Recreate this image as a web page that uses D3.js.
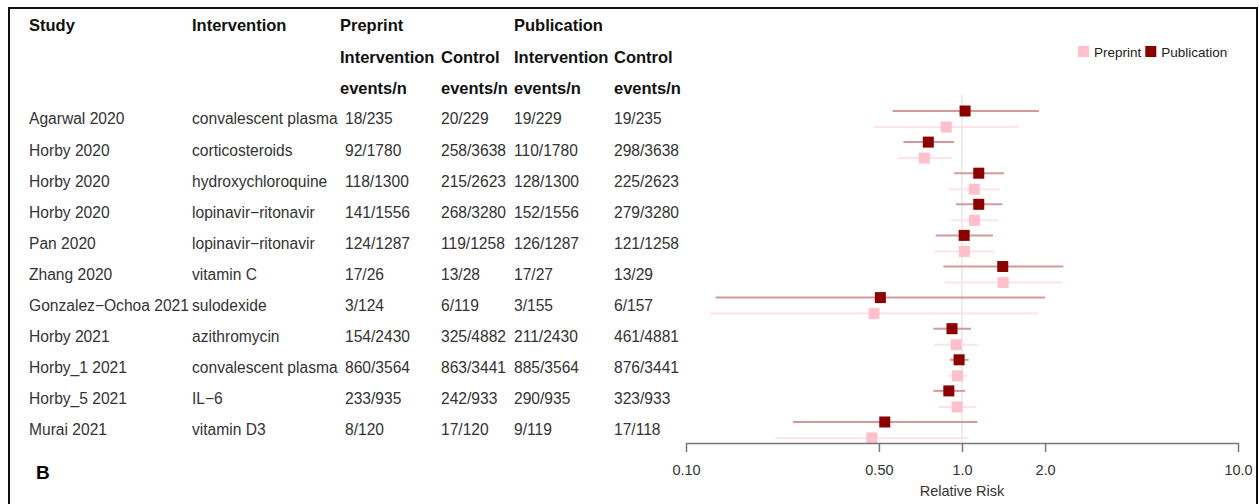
<!DOCTYPE html>
<meta charset="utf-8">
<style>
body { margin: 0; background: #fff; }
* { font-family: "Liberation Sans", Arial, sans-serif; }
.hdr { font-weight: bold; font-size: 16.5px; fill: #111; }
.cell { font-size: 15.6px; fill: #333; }
</style>
<body>
<script src="https://cdn.jsdelivr.net/npm/d3@7"></script>
<script>

var studies = ["Agarwal 2020", "Horby 2020", "Horby 2020", "Horby 2020", "Pan 2020", "Zhang 2020",
  "Gonzalez\u2212Ochoa 2021", "Horby 2021", "Horby_1 2021", "Horby_5 2021", "Murai 2021"];
var interventions = ["convalescent plasma", "corticosteroids", "hydroxychloroquine", "lopinavir\u2212ritonavir",
  "lopinavir\u2212ritonavir", "vitamin C", "sulodexide", "azithromycin", "convalescent plasma", "IL\u22126", "vitamin D3"];
var preInt = ["18/235", "92/1780", "118/1300", "141/1556", "124/1287", "17/26", "3/124", "154/2430", "860/3564", "233/935", "8/120"];
var preCtl = ["20/229", "258/3638", "215/2623", "268/3280", "119/1258", "13/28", "6/119", "325/4882", "863/3441", "242/933", "17/120"];
var pubInt = ["19/229", "110/1780", "128/1300", "152/1556", "126/1287", "17/27", "3/155", "211/2430", "885/3564", "290/935", "9/119"];
var pubCtl = ["19/235", "298/3638", "225/2623", "279/3280", "121/1258", "13/29", "6/157", "461/4881", "876/3441", "323/933", "17/118"];

// relative risks with 95% CI
var preRR = [0.877, 0.73, 1.108, 1.11, 1.02, 1.41, 0.48, 0.953, 0.963, 0.96, 0.471];
var preLo = [0.477, 0.588, 0.90, 0.915, 0.792, 0.868, 0.122, 0.792, 0.887, 0.823, 0.211];
var preHi = [1.61, 0.917, 1.37, 1.35, 1.31, 2.31, 1.89, 1.146, 1.045, 1.127, 1.057];
var pubRR = [1.026, 0.755, 1.15, 1.15, 1.018, 1.405, 0.506, 0.92, 0.976, 0.896, 0.525];
var pubLo = [0.56, 0.613, 0.936, 0.951, 0.803, 0.856, 0.128, 0.787, 0.903, 0.787, 0.244];
var pubHi = [1.90, 0.936, 1.42, 1.40, 1.295, 2.33, 2.0, 1.078, 1.057, 1.025, 1.136];

var tickVals = [0.1, 0.5, 1, 2, 10];
var tickLabels = ["0.10", "0.50", "1.0", "2.0", "10.0"];

var header1 = ["Study", "Intervention", "Preprint", "", "Publication", ""];
var header2 = ["", "", "Intervention", "Control", "Intervention", "Control"];
var header3 = ["", "", "events/n", "events/n", "events/n", "events/n"];

var width = 1259, height = 504;
var colX = [29, 192, 340, 441, 514, 614];
var dataX = [29, 192, 345, 441, 514, 614];

var svg = d3.select("body").append("svg")
    .attr("width", width)
    .attr("height", height);

// frame round the panel
svg.append("path")
    .attr("d", "M9,504V8H1257V504")
    .attr("fill", "none")
    .attr("stroke", "#111")
    .attr("stroke-width", 2);

var x = d3.scaleLog().domain([0.1, 10]).range([686, 1238]);
var y = d3.scaleLinear().domain([0, 10]).range([119, 430]);

// header
[header1, header2, header3].forEach(function(h, r) {
  svg.selectAll(null).data(h).enter().append("text")
      .attr("class", "hdr")
      .attr("x", function(d, i) { return colX[i]; })
      .attr("y", y(r - 3))
      .attr("dy", "0.35em")
      .text(function(d) { return d; });
});

// table body
var cols = [studies, interventions, preInt, preCtl, pubInt, pubCtl];
cols.forEach(function(col, c) {
  svg.selectAll(null).data(col).enter().append("text")
      .attr("class", "cell")
      .attr("x", dataX[c])
      .attr("y", function(d, i) { return y(i); })
      .attr("dy", "0.35em")
      .text(function(d) { return d; });
});

// reference line at 1
svg.append("line")
    .attr("x1", x(1)).attr("x2", x(1))
    .attr("y1", y(0) - 24).attr("y2", 443)
    .attr("stroke", "#e2e2e2")
    .attr("stroke-width", 1.2);

var series = [
  {name: "Preprint", rr: preRR, lo: preLo, hi: preHi, off: 8, col: "#ffc0cb", ci: "#ffe3e8"},
  {name: "Publication", rr: pubRR, lo: pubLo, hi: pubHi, off: -8, col: "#8b0000", ci: "#d49a9a"}
];

series.forEach(function(s) {
  var g = svg.append("g");
  g.selectAll("line").data(s.rr).enter().append("line")
      .attr("x1", function(d, i) { return x(s.lo[i]); })
      .attr("x2", function(d, i) { return x(s.hi[i]); })
      .attr("y1", function(d, i) { return y(i) + s.off; })
      .attr("y2", function(d, i) { return y(i) + s.off; })
      .attr("stroke", s.ci)
      .attr("stroke-width", 2);
  g.selectAll("rect").data(s.rr).enter().append("rect")
      .attr("x", function(d) { return x(d) - 5.5; })
      .attr("y", function(d, i) { return y(i) + s.off - 5.5; })
      .attr("width", 11)
      .attr("height", 11)
      .attr("fill", s.col);
});

// x axis
var axis = svg.append("g")
    .attr("transform", "translate(0,443)")
    .call(d3.axisBottom(x).tickValues(tickVals)
      .tickFormat(function(d, i) { return tickLabels[i]; })
      .tickSize(9).tickSizeOuter(0).tickPadding(13));
axis.select(".domain").attr("stroke", "#777").attr("stroke-width", 1.5);
axis.selectAll(".tick line").attr("stroke", "#777").attr("stroke-width", 1.5);
axis.selectAll(".tick text")
    .attr("fill", "#333")
    .style("font-size", "14.5px")
    .style("font-family", "Liberation Sans, Arial, sans-serif");

svg.append("text")
    .attr("x", x(1))
    .attr("y", 491)
    .attr("dy", "0.35em")
    .attr("text-anchor", "middle")
    .attr("fill", "#333")
    .style("font-size", "14.5px")
    .text("Relative Risk");

// legend
var legend = svg.append("g").attr("transform", "translate(1078,46)");
var lx = 0;
series.forEach(function(s) {
  legend.append("rect").attr("x", lx).attr("y", 0).attr("width", 11).attr("height", 11).attr("fill", s.col);
  var t = legend.append("text")
      .attr("x", lx + 16).attr("y", 6)
      .attr("dy", "0.35em")
      .attr("fill", "#222")
      .style("font-size", "13.5px")
      .text(s.name);
  lx += 16 + t.node().getComputedTextLength() + 4;
});

// panel letter
svg.append("text")
    .attr("x", 36)
    .attr("y", 472)
    .attr("dy", "0.35em")
    .style("font-size", "19px")
    .style("font-weight", "bold")
    .text("B");

</script>
</body>
</html>
